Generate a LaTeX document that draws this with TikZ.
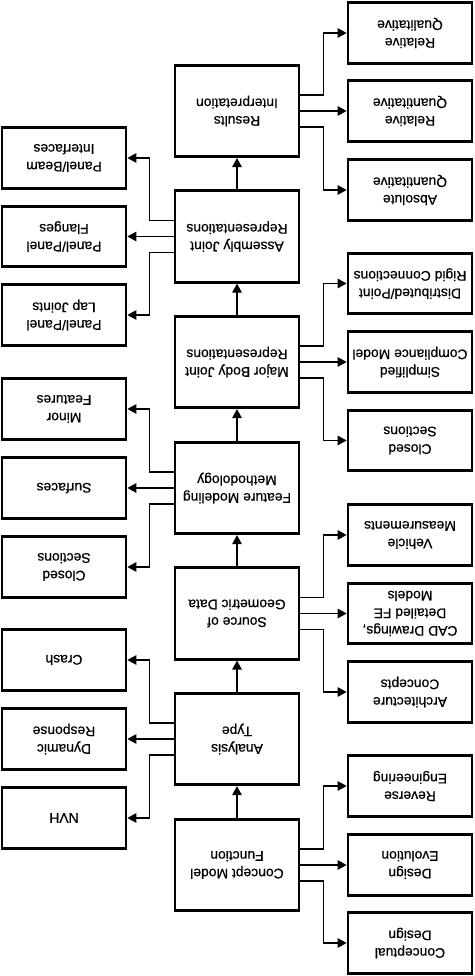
\documentclass[tikz,border=0pt]{standalone}
\usepackage{fontspec}
\setsansfont[FakeBold=0.6]{Liberation Sans}
\usetikzlibrary{arrows.meta,calc}

\begin{document}
\begin{tikzpicture}[x=1pt,y=1pt,rotate=180,transform shape,
    font=\sffamily\fontsize{13.9}{17.6}\selectfont,
    mainbox/.style={draw,line width=2.7pt,minimum width=124pt,minimum height=91.5pt,align=center,inner sep=0pt},
    sidebox/.style={draw,line width=2.7pt,minimum width=124pt,minimum height=60.5pt,align=center,inner sep=0pt},
    link/.style={line width=1.3pt,-{Triangle[length=9pt,width=9.5pt]}}]
        \useasboundingbox (0,0) rectangle (474,-976);

        \node[mainbox] (cm) at (237,-111) {Concept Model\\Function};
        \node[mainbox] (at) at (237,-237) {Analysis\\Type};
        \node[mainbox] (sg) at (237,-362.5) {Source of\\Geometric Data};
        \node[mainbox] (fm) at (237,-488) {Feature Modeling\\Methodology};
        \node[mainbox] (mb) at (237,-614) {Major Body Joint\\Representations};
        \node[mainbox] (aj) at (237,-739.5) {Assembly Joint\\Representations};
        \node[mainbox] (ri) at (237,-865) {Results\\Interpretation};

        \node[sidebox] (cd) at (64,-33) {Conceptual\\Design};
        \node[sidebox] (de) at (64,-111) {Design\\Evolution};
        \node[sidebox] (re) at (64,-190) {Reverse\\Engineering};

        \node[sidebox] (nvh) at (410,-158) {NVH};
        \node[sidebox] (dr) at (410,-237) {Dynamic\\Response};
        \node[sidebox] (cr) at (410,-316) {Crash};

        \node[sidebox] (ac) at (64,-284) {Architecture\\Concepts};
        \node[sidebox] (cad) at (64,-362.5) {CAD Drawings,\\Detailed FE\\Models};
        \node[sidebox] (vm) at (64,-441) {Vehicle\\Measurements};

        \node[sidebox] (csa) at (410,-409) {Closed\\Sections};
        \node[sidebox] (sf) at (410,-488) {Surfaces};
        \node[sidebox] (mf) at (410,-567) {Minor\\Features};

        \node[sidebox] (csb) at (64,-535.5) {Closed\\Sections};
        \node[sidebox] (sc) at (64,-614) {Simplified\\Compliance Model};
        \node[sidebox] (dp) at (64,-692.5) {Distributed/Point\\Rigid Connections};

        \node[sidebox] (lj) at (410,-661) {Panel/Panel\\Lap Joints};
        \node[sidebox] (fl) at (410,-739.5) {Panel/Panel\\Flanges};
        \node[sidebox] (pb) at (410,-818) {Panel/Beam\\Interfaces};

        \node[sidebox] (aq) at (64,-786) {Absolute\\Quantitative};
        \node[sidebox] (rq) at (64,-865) {Relative\\Quantitative};
        \node[sidebox] (rl) at (64,-943) {Relative\\Qualitative};

        \draw[link] (cm) -- (at);
        \draw[link] (at) -- (sg);
        \draw[link] (sg) -- (fm);
        \draw[link] (fm) -- (mb);
        \draw[link] (mb) -- (aj);
        \draw[link] (aj) -- (ri);

        \draw[link] ($(cm.west)+(0,16)$) -- ++(-23,0) |- (cd);
        \draw[link] (cm) -- (de);
        \draw[link] ($(cm.west)+(0,-16)$) -- ++(-23,0) |- (re);

        \draw[link] ($(at.east)+(0,16)$) -- ++(24,0) |- (nvh);
        \draw[link] (at) -- (dr);
        \draw[link] ($(at.east)+(0,-16)$) -- ++(24,0) |- (cr);

        \draw[link] ($(sg.west)+(0,16)$) -- ++(-23,0) |- (ac);
        \draw[link] (sg) -- (cad);
        \draw[link] ($(sg.west)+(0,-16)$) -- ++(-23,0) |- (vm);

        \draw[link] ($(fm.east)+(0,16)$) -- ++(24,0) |- (csa);
        \draw[link] (fm) -- (sf);
        \draw[link] ($(fm.east)+(0,-16)$) -- ++(24,0) |- (mf);

        \draw[link] ($(mb.west)+(0,16)$) -- ++(-23,0) |- (csb);
        \draw[link] (mb) -- (sc);
        \draw[link] ($(mb.west)+(0,-16)$) -- ++(-23,0) |- (dp);

        \draw[link] ($(aj.east)+(0,16)$) -- ++(24,0) |- (lj);
        \draw[link] (aj) -- (fl);
        \draw[link] ($(aj.east)+(0,-16)$) -- ++(24,0) |- (pb);

        \draw[link] ($(ri.west)+(0,16)$) -- ++(-23,0) |- (aq);
        \draw[link] (ri) -- (rq);
        \draw[link] ($(ri.west)+(0,-16)$) -- ++(-23,0) |- (rl);
    \end{tikzpicture}
\end{document}
